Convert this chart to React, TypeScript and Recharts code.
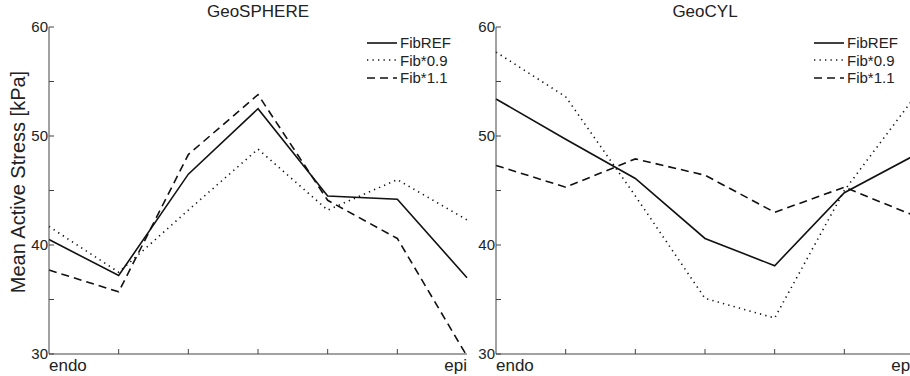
import React from 'react';
import { LineChart, Line, XAxis, YAxis } from 'recharts';

const positions = [0, 1, 2, 3, 4, 5, 6];
const xTickLabels: Record<number, string> = { 0: 'endo', 6: 'epi' };
const yTicks = [30, 35, 40, 45, 50, 55, 60];
const yLabeled = [30, 40, 50, 60];

const sphereRef = [40.5, 37.2, 46.5, 52.5, 44.5, 44.2, 37.0];
const sphere09 = [41.7, 37.5, 43.2, 48.8, 43.2, 46.0, 42.3];
const sphere11 = [37.7, 35.7, 48.3, 53.8, 44.1, 40.6, 29.8];

const cylRef = [53.4, 49.7, 46.1, 40.6, 38.1, 44.8, 48.2];
const cyl09 = [57.7, 53.6, 44.5, 35.1, 33.3, 45.0, 53.5];
const cyl11 = [47.3, 45.3, 47.9, 46.4, 43.0, 45.3, 42.7];

const seriesNames = ['FibREF', 'Fib*0.9', 'Fib*1.1'];
const dashes = ['', '1.3 4.2', '8 5'];

const FONT = '"Liberation Sans", Arial, sans-serif';
const AXIS = '#444';

function buildRows(a: number[], b: number[], c: number[]) {
  return positions.map((p, i) => ({ x: p, ref: a[i], p09: b[i], p11: c[i] }));
}

const XTick = (props: any) => {
  const { x, y, payload } = props;
  const v = payload.value;
  const label = xTickLabels[v] ?? '';
  const inner = v !== 0 && v !== 6;
  return (
    <g>
      {inner && <line x1={x} y1={y} x2={x} y2={y - 5} stroke={AXIS} strokeWidth={1} />}
      {label && (
        <text x={x} y={y + 17} textAnchor={v === 0 ? 'start' : 'end'} fontSize={17} fill="#222" fontFamily={FONT}>
          {label}
        </text>
      )}
    </g>
  );
};

const YTick = (props: any) => {
  const { x, y, payload } = props;
  const v = payload.value;
  const labeled = yLabeled.includes(v);
  return (
    <g>
      <line x1={x} y1={y} x2={x + 5} y2={y} stroke={AXIS} strokeWidth={1} />
      {labeled && (
        <text x={x - 1} y={y + 5} textAnchor="end" fontSize={15} fill="#222" fontFamily={FONT}>
          {v}
        </text>
      )}
    </g>
  );
};

const LegendBox = ({ left }: { left: number }) => (
  <div style={{ position: 'absolute', left, top: 34, fontFamily: FONT, fontSize: 15, color: '#222', lineHeight: '17px' }}>
    {seriesNames.map((n, i) => (
      <div key={n} style={{ display: 'flex', alignItems: 'center', height: 17.5 }}>
        <svg width={32} height={10} style={{ marginRight: 2 }}>
          <line x1={1} y1={5} x2={31} y2={5} stroke="#111" strokeWidth={1.6} strokeDasharray={dashes[i] || undefined} />
        </svg>
        <span>{n}</span>
      </div>
    ))}
  </div>
);

const Panel = ({ data, left }: { data: any[]; left: number }) => (
  <div style={{ position: 'absolute', left, top: 0 }}>
    <LineChart width={470} height={376} data={data} margin={{ top: 27, right: 3, bottom: 0, left: 0 }}>
      <XAxis
        dataKey="x"
        type="number"
        domain={[0, 6]}
        ticks={positions}
        interval={0}
        height={22}
        tickSize={0}
        tickMargin={0}
        tickLine={false}
        tick={<XTick />}
        axisLine={{ stroke: AXIS, strokeWidth: 1 }}
      />
      <XAxis xAxisId="top" orientation="top" dataKey="x" type="number" domain={[0, 6]} height={0} tick={false} tickLine={false} axisLine={{ stroke: AXIS, strokeWidth: 1 }} />
      <YAxis
        type="number"
        domain={[30, 60]}
        ticks={yTicks}
        interval={0}
        allowDataOverflow
        width={49}
        tickSize={0}
        tickMargin={0}
        tickLine={false}
        tick={<YTick />}
        axisLine={{ stroke: AXIS, strokeWidth: 1 }}
      />
      <YAxis yAxisId="r" orientation="right" type="number" domain={[30, 60]} width={0} tick={false} tickLine={false} axisLine={{ stroke: AXIS, strokeWidth: 1 }} />
      <Line dataKey="ref" name={seriesNames[0]} stroke="#111" strokeWidth={1.6} dot={false} isAnimationActive={false} />
      <Line dataKey="p09" name={seriesNames[1]} stroke="#111" strokeWidth={1.6} strokeDasharray={dashes[1]} dot={false} isAnimationActive={false} />
      <Line dataKey="p11" name={seriesNames[2]} stroke="#111" strokeWidth={1.6} strokeDasharray={dashes[2]} dot={false} isAnimationActive={false} />
    </LineChart>
    <LegendBox left={366} />
  </div>
);

export default function App() {
  const sphereData = buildRows(sphereRef, sphere09, sphere11);
  const cylData = buildRows(cylRef, cyl09, cyl11);
  return (
    <div style={{ position: 'absolute', left: 0, top: 0, width: 910, height: 376, overflow: 'hidden', background: '#fff', fontFamily: FONT }}>
      <Panel data={sphereData} left={0} />
      <Panel data={cylData} left={447} />
      <div style={{ position: 'absolute', left: 49, width: 418, top: 2, textAlign: 'center', fontSize: 17, color: '#222' }}>GeoSPHERE</div>
      <div style={{ position: 'absolute', left: 496, width: 418, top: 2, textAlign: 'center', fontSize: 17, color: '#222' }}>GeoCYL</div>
      <div
        style={{
          position: 'absolute',
          left: 18,
          top: 182,
          transform: 'translate(-50%, -50%) rotate(-90deg)',
          whiteSpace: 'nowrap',
          fontSize: 20,
          color: '#222',
        }}
      >
        Mean Active Stress [kPa]
      </div>
    </div>
  );
}
